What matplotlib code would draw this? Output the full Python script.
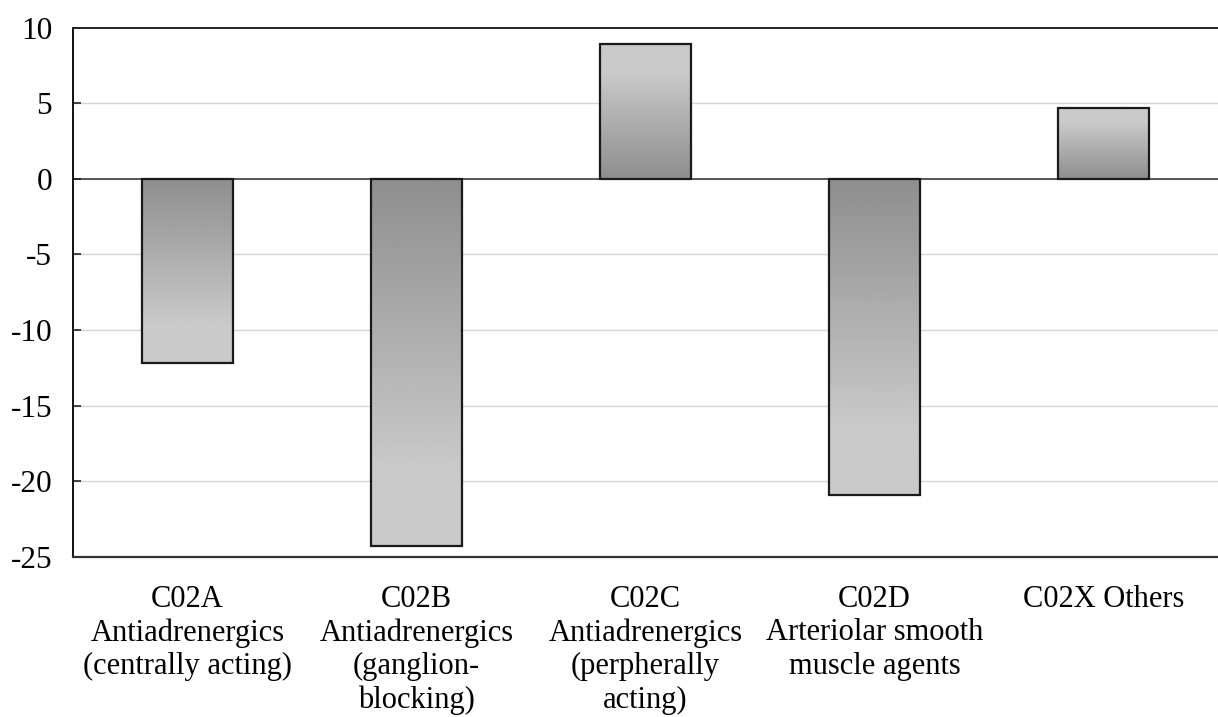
import numpy as np
import matplotlib
matplotlib.use("Agg")
import matplotlib.pyplot as plt

plt.rcParams['font.family'] = ['Liberation Serif', 'DejaVu Serif']

# change per ATC subgroup
categories = [
    "C02A\nAntiadrenergics\n(centrally acting)",
    "C02B\nAntiadrenergics\n(ganglion-\nblocking)",
    "C02C\nAntiadrenergics\n(perpherally\nacting)",
    "C02D\nArteriolar smooth\nmuscle agents",
    "C02X Others",
]
values = [-12.2, -24.3, 8.9, -20.9, 4.7]
y_ticks = [-25, -20, -15, -10, -5, 0, 5, 10]

fig = plt.figure(figsize=(12.18, 7.17), dpi=100)
ax = fig.add_axes([0.0599, 0.2232, 0.9401, 0.7384])

x = np.arange(len(categories))
bars = ax.bar(x, values, width=0.40, facecolor='none', edgecolor='#1a1a1a',
              linewidth=1.6, zorder=3)

# grey gradient: dark at the zero line, lighter towards the bar end
ramp = np.clip(np.linspace(0, 1, 256) / 0.8, 0, 1)
shade = 0x8E / 255 + ramp * (0xCA - 0x8E) / 255
for b, v in zip(bars, values):
    x0 = b.get_x()
    x1 = x0 + b.get_width()
    img = shade.reshape(-1, 1)
    if v >= 0:
        img = img[::-1]
        ext = (x0, x1, 0, v)
    else:
        ext = (x0, x1, v, 0)
    im = ax.imshow(img, cmap='gray', vmin=0, vmax=1, extent=ext,
                   aspect='auto', origin='upper', zorder=2,
                   interpolation='bilinear')
    im.set_clip_path(b)

ax.set_xlim(-0.5, len(categories) - 0.5)
ax.set_ylim(-25, 10)
ax.set_yticks(y_ticks)
ax.set_yticklabels([str(t) for t in y_ticks])

for t in y_ticks:
    if t == 0:
        ax.axhline(t, color='#555555', linewidth=1.4, zorder=1)
    elif t not in (-25, 10):
        ax.axhline(t, color='#d4d4d4', linewidth=1.0, zorder=1)

ax.set_xticks(x)
ax.set_xticklabels(categories, fontsize=22, linespacing=1.2)
ax.tick_params(axis='x', length=0, pad=20)
ax.tick_params(axis='y', direction='in', length=6, width=1.2,
               color='#222222', labelsize=22.5, pad=15)
for lbl in ax.get_yticklabels():
    lbl.set_va('center_baseline')

ax.spines['right'].set_visible(False)
ax.spines['left'].set_color('#111111')
ax.spines['left'].set_linewidth(1.4)
ax.spines['top'].set_color('#222222')
ax.spines['top'].set_linewidth(1.4)
ax.spines['bottom'].set_color('#333333')
ax.spines['bottom'].set_linewidth(1.6)

fig.savefig("out.png", dpi=100, facecolor='white')
